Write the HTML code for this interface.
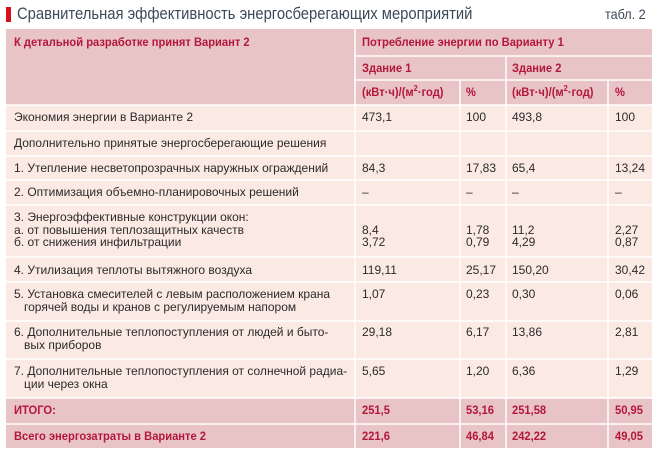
<!DOCTYPE html>
<html><head><meta charset="utf-8"><style>
body{margin:0;width:658px;height:454px;background:#fff;position:relative;overflow:hidden;font-family:"Liberation Sans",sans-serif;}
.t{position:absolute;white-space:nowrap;font-size:12px;color:#2b2b2b;line-height:12.5px}
.r{color:#b3173c;font-weight:bold;transform:scaleX(0.93);transform-origin:0 0}
.bg{position:absolute}
</style></head><body>
<div class="bg" style="left:6px;top:7px;width:5px;height:15px;background:#d8101e"></div>
<div class="t" style="left:17px;top:4px;font-size:17px;line-height:20px;color:#3c4a58;transform:scaleX(0.87);transform-origin:0 0">Сравнительная эффективность энергосберегающих мероприятий</div>
<div class="t" style="left:605px;top:5px;font-size:14px;line-height:18px;color:#3c4a58;transform:scaleX(0.9);transform-origin:0 0">табл. 2</div>
<svg width="658" height="454" style="position:absolute;left:0;top:0">
<rect x="6" y="29" width="646" height="76" fill="#e8c4c6"/>
<rect x="6" y="105" width="646" height="293" fill="#fbe9e3"/>
<rect x="6" y="398" width="646" height="50" fill="#e8c4c6"/>
<g stroke="#fff" stroke-width="1.5">
<line x1="355" y1="29" x2="355" y2="448"/>
<line x1="460" y1="80" x2="460" y2="448"/>
<line x1="506" y1="56" x2="506" y2="448"/>
<line x1="608" y1="80" x2="608" y2="448"/>
<line x1="355" y1="56" x2="652" y2="56"/>
<line x1="355" y1="80" x2="652" y2="80"/>
<line x1="6" y1="105" x2="652" y2="105"/>
<line x1="6" y1="131" x2="652" y2="131"/>
<line x1="6" y1="156" x2="652" y2="156"/>
<line x1="6" y1="180" x2="652" y2="180"/>
<line x1="6" y1="205" x2="652" y2="205"/>
<line x1="6" y1="257" x2="652" y2="257"/>
<line x1="6" y1="282" x2="652" y2="282"/>
<line x1="6" y1="321" x2="652" y2="321"/>
<line x1="6" y1="359" x2="652" y2="359"/>
<line x1="6" y1="398" x2="652" y2="398"/>
<line x1="6" y1="424" x2="652" y2="424"/>
</g></svg>
<div class="t r" style="left:14px;top:36px">К детальной разработке принят Вариант 2</div>
<div class="t r" style="left:362px;top:36px">Потребление энергии по Варианту 1</div>
<div class="t r" style="left:362px;top:62px">Здание 1</div>
<div class="t r" style="left:512px;top:62px">Здание 2</div>
<div class="t r" style="left:362px;top:86px">(кВт·ч)/(м<sup style="font-size:8px;line-height:0">2</sup>·год)</div>
<div class="t r" style="left:466px;top:86px">%</div>
<div class="t r" style="left:512px;top:86px">(кВт·ч)/(м<sup style="font-size:8px;line-height:0">2</sup>·год)</div>
<div class="t r" style="left:615px;top:86px">%</div>

<div class="t" style="left:14px;top:111px">Экономия энергии в Варианте 2</div>
<div class="t" style="left:362px;top:111px">473,1</div><div class="t" style="left:466px;top:111px">100</div><div class="t" style="left:512px;top:111px">493,8</div><div class="t" style="left:615px;top:111px">100</div>
<div class="t" style="left:14px;top:137px">Дополнительно принятые энергосберегающие решения</div>
<div class="t" style="left:14px;top:162px">1. Утепление несветопрозрачных наружных ограждений</div>
<div class="t" style="left:362px;top:162px">84,3</div><div class="t" style="left:466px;top:162px">17,83</div><div class="t" style="left:512px;top:162px">65,4</div><div class="t" style="left:615px;top:162px">13,24</div>
<div class="t" style="left:14px;top:186px">2. Оптимизация объемно-планировочных решений</div>
<div class="t" style="left:362px;top:186px">–</div><div class="t" style="left:466px;top:186px">–</div><div class="t" style="left:512px;top:186px">–</div><div class="t" style="left:615px;top:186px">–</div>
<div class="t" style="left:14px;top:211px">3. Энергоэффективные конструкции окон:<br>а. от повышения теплозащитных качеств<br>б. от снижения инфильтрации</div>
<div class="t" style="left:362px;top:223.5px">8,4<br>3,72</div><div class="t" style="left:466px;top:223.5px">1,78<br>0,79</div><div class="t" style="left:512px;top:223.5px">11,2<br>4,29</div><div class="t" style="left:615px;top:223.5px">2,27<br>0,87</div>
<div class="t" style="left:14px;top:264px">4. Утилизация теплоты вытяжного воздуха</div>
<div class="t" style="left:362px;top:264px">119,11</div><div class="t" style="left:466px;top:264px">25,17</div><div class="t" style="left:512px;top:264px">150,20</div><div class="t" style="left:615px;top:264px">30,42</div>
<div class="t" style="left:14px;top:288px">5. Установка смесителей с левым расположением крана<br>&nbsp;&nbsp;&nbsp;горячей воды и кранов с регулируемым напором</div>
<div class="t" style="left:362px;top:288px">1,07</div><div class="t" style="left:466px;top:288px">0,23</div><div class="t" style="left:512px;top:288px">0,30</div><div class="t" style="left:615px;top:288px">0,06</div>
<div class="t" style="left:14px;top:326px">6. Дополнительные теплопоступления от людей и быто-<br>&nbsp;&nbsp;&nbsp;вых приборов</div>
<div class="t" style="left:362px;top:326px">29,18</div><div class="t" style="left:466px;top:326px">6,17</div><div class="t" style="left:512px;top:326px">13,86</div><div class="t" style="left:615px;top:326px">2,81</div>
<div class="t" style="left:14px;top:365px">7. Дополнительные теплопоступления от солнечной радиа-<br>&nbsp;&nbsp;&nbsp;ции через окна</div>
<div class="t" style="left:362px;top:365px">5,65</div><div class="t" style="left:466px;top:365px">1,20</div><div class="t" style="left:512px;top:365px">6,36</div><div class="t" style="left:615px;top:365px">1,29</div>
<div class="t r" style="left:14px;top:404px">ИТОГО:</div>
<div class="t r" style="left:362px;top:404px">251,5</div><div class="t r" style="left:466px;top:404px">53,16</div><div class="t r" style="left:512px;top:404px">251,58</div><div class="t r" style="left:615px;top:404px">50,95</div>
<div class="t r" style="left:14px;top:430px">Всего энергозатраты в Варианте 2</div>
<div class="t r" style="left:362px;top:430px">221,6</div><div class="t r" style="left:466px;top:430px">46,84</div><div class="t r" style="left:512px;top:430px">242,22</div><div class="t r" style="left:615px;top:430px">49,05</div>
</body></html>
